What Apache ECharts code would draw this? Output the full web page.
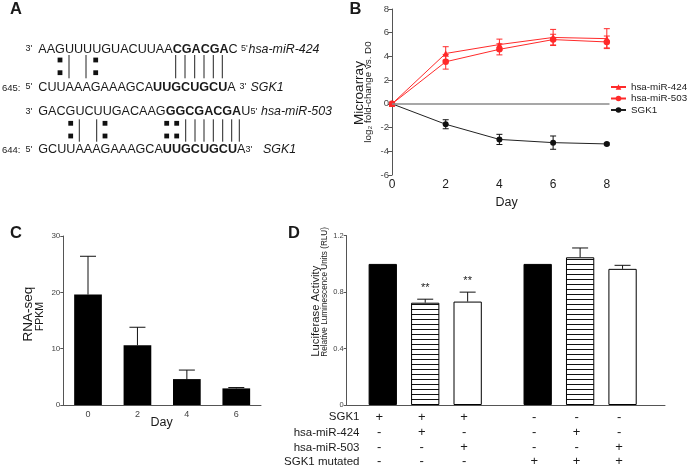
<!DOCTYPE html>
<html><head><meta charset="utf-8">
<script src="https://cdn.jsdelivr.net/npm/echarts@6/dist/echarts.min.js"></script>
<style>html,body{margin:0;padding:0;background:#fff}#c{width:689px;height:473px}</style>
</head><body><div id="c"></div>
<script>
const FONT = '"Liberation Sans", Arial, sans-serif';
const INK = '#1a1a1a';
const RED = '#ff2a2a';

// ---- Panel B: microarray time course ----
const daysB = [0, 2, 4, 6, 8];
const mir424 = [0, 4.25, 5.0, 5.6, 5.5];
const mir424Err = [0, 0.57, 0.46, 0.68, 0.84];
const mir503 = [0, 3.55, 4.6, 5.42, 5.22];
const mir503Err = [0, 0.62, 0.47, 0.45, 0.5];
const sgk1 = [0, -1.72, -3.0, -3.27, -3.38];
const sgk1Err = [0, 0.38, 0.43, 0.56, 0.08];

// ---- Panel C: RNA-seq ----
const daysC = ['0', '2', '4', '6'];
const fpkm = [19.6, 10.6, 4.6, 2.95];
const fpkmErr = [6.8, 3.2, 1.6, 0.15];

// ---- Panel D: luciferase ----
const dPos = [0.85, 1.85, 2.85, 4.5, 5.5, 6.5];
const rlu = [1.0, 0.725, 0.733, 1.0, 1.047, 0.965];
const rluErr = [0, 0.025, 0.067, 0, 0.066, 0.025];
const rluSig = ['', '**', '**', '', '', ''];
const rluFill = ['solid', 'hatch', 'open', 'solid', 'hatch', 'open'];
const tableRows = ['SGK1', 'hsa-miR-424', 'hsa-miR-503', 'SGK1 mutated'];
const tableSigns = [
  ['+', '+', '+', '-', '-', '-'],
  ['-', '+', '-', '-', '+', '-'],
  ['-', '-', '+', '-', '-', '+'],
  ['-', '-', '-', '+', '+', '+']
];

// ---- Panel A: sequences ----
const seqRows = [
  {y: 49.5, pre: "3'", num: '', seq: [['n', 'AAGUUUUGUACUUAA'], ['b', 'CGACGA'], ['n', 'C']], end: "5'", endX: 241, name: 'hsa-miR-424', nameX: 248.5},
  {y: 87.5, pre: "5'", num: '645:', seq: [['n', 'CUUAAAGAAAGCA'], ['b', 'UUGCUGCU'], ['n', 'A']], end: "3'", endX: 239.5, name: 'SGK1', nameX: 250.5},
  {y: 111.8, pre: "3'", num: '', seq: [['n', 'GACGUCUUGACAAG'], ['b', 'GGCGACGA'], ['n', 'U']], end: "5'", endX: 250.5, name: 'hsa-miR-503', nameX: 261},
  {y: 150, pre: "5'", num: '644:', seq: [['n', 'GCUUAAAGAAAGCA'], ['b', 'UUGCUGCU'], ['n', 'A']], end: "3'", endX: 245.5, name: 'SGK1', nameX: 263}
];
const pairMarks = [
  {sq: [60, 95.7], sqY: [60, 72.7], ln: [69, 86, 175.7, 185, 194.7, 204, 213.3, 222.3], y1: 55, y2: 78.3},
  {sq: [70.7, 105, 166.7, 176.7], sqY: [123.3, 136], ln: [79.3, 96.7, 185.7, 195, 204, 213.3, 222.7, 231.7, 239.3], y1: 119.3, y2: 141.7}
];

function hatchCanvas() {
  const c = document.createElement('canvas');
  c.width = 8; c.height = 5;
  const g = c.getContext('2d');
  g.fillStyle = '#fff'; g.fillRect(0, 0, 8, 5);
  g.fillStyle = '#111'; g.fillRect(0, 4, 8, 1);
  return c;
}
const HATCH = hatchCanvas();

function errRender(capW, both, color, sig) {
  return function (params, api) {
    const x = api.value(0), y = api.value(1), e = api.value(2);
    const children = [];
    const p = api.coord([x, y]);
    if (e) {
      const t = api.coord([x, y + e]);
      const b = both ? api.coord([x, y - e]) : p;
      const h = capW / 2;
      children.push({type: 'line', shape: {x1: p[0], y1: t[1], x2: p[0], y2: b[1]}, style: {stroke: color, lineWidth: 1}});
      children.push({type: 'line', shape: {x1: p[0] - h, y1: t[1], x2: p[0] + h, y2: t[1]}, style: {stroke: color, lineWidth: 1}});
      if (both) children.push({type: 'line', shape: {x1: p[0] - h, y1: b[1], x2: p[0] + h, y2: b[1]}, style: {stroke: color, lineWidth: 1}});
      if (sig && sig[params.dataIndex]) {
        children.push({type: 'text', style: {text: sig[params.dataIndex], x: p[0], y: t[1] - 6, align: 'center', verticalAlign: 'bottom', fontSize: 11, fontFamily: FONT, fill: '#222'}});
      }
    }
    return {type: 'group', children: children};
  };
}

const pairs = (xs, ys) => xs.map((x, i) => [x, ys[i]]);
const triples = (xs, ys, es) => xs.map((x, i) => [x, ys[i], es[i]]);

// graphics
const G = [];
function txt(x, y, text, o) {
  G.push(Object.assign({type: 'text', x: x, y: y, silent: true,
    style: Object.assign({text: text, fill: INK, fontFamily: FONT, fontSize: 12, align: 'left', verticalAlign: 'middle'}, o || {})}));
}
function vtxt(x, y, text, size, align) {
  G.push({type: 'text', x: x, y: y, rotation: Math.PI / 2, silent: true,
    style: {text: text, fill: INK, fontFamily: FONT, fontSize: size, align: align || 'center', verticalAlign: 'middle'}});
}
// panel letters
txt(16, 9.5, 'A', {fontSize: 16.5, fontWeight: 'bold', align: 'center'});
txt(355.5, 9.5, 'B', {fontSize: 16.5, fontWeight: 'bold', align: 'center'});
txt(16, 233, 'C', {fontSize: 16.5, fontWeight: 'bold', align: 'center'});
txt(294, 233, 'D', {fontSize: 16.5, fontWeight: 'bold', align: 'center'});

// panel A text
seqRows.forEach(r => {
  if (r.num) txt(20.5, r.y + 0.5, r.num, {fontSize: 9.5, align: 'right'});
  txt(25.5, r.y - 0.5, r.pre, {fontSize: 9});
  G.push({type: 'text', x: 38.3, y: r.y, silent: true, style: {
    text: r.seq.map(s => '{' + s[0] + '|' + s[1] + '}').join(''),
    fontFamily: FONT, fontSize: 12.6, fill: INK, align: 'left', verticalAlign: 'middle',
    rich: {n: {fontSize: 12.6, fontFamily: FONT, fill: INK}, b: {fontSize: 12.6, fontFamily: FONT, fontWeight: 'bold', fill: INK}}
  }});
  txt(r.endX, r.y - 0.5, r.end, {fontSize: 9});
  txt(r.nameX, r.y, r.name, {fontSize: 12.4, fontStyle: 'italic'});
});
pairMarks.forEach(m => {
  m.sq.forEach(x => m.sqY.forEach(y => G.push({type: 'rect', silent: true, shape: {x: x - 2.4, y: y - 2.4, width: 4.8, height: 4.8}, style: {fill: '#111'}})));
  m.ln.forEach(x => G.push({type: 'line', silent: true, shape: {x1: x, y1: m.y1, x2: x, y2: m.y2}, style: {stroke: '#222', lineWidth: 1}}));
});

// axis titles
vtxt(359, 93, 'Microarray', 13.5);
vtxt(368.5, 92, 'log\u2082 fold-change vs. D0', 9.8);
txt(506.7, 203, 'Day', {fontSize: 12.5, align: 'center'});
vtxt(28.3, 314, 'RNA-seq', 13.5);
vtxt(40, 316.5, 'FPKM', 10.5);
txt(161.7, 423, 'Day', {fontSize: 12.5, align: 'center'});
vtxt(315.7, 356.7, 'Luciferase Activity', 11.3, 'left');
vtxt(324.3, 356.7, 'Relative Luminescence Units (RLU)', 8.2, 'left');

const chart = echarts.init(document.getElementById('c'), null, {renderer: 'canvas'});
const axisGray = '#555';
const baseAxisLabel = {fontFamily: FONT, color: '#444'};

const option = {
  animation: false,
  backgroundColor: '#fff',
  textStyle: {fontFamily: FONT},
  legend: {
    data: ['hsa-miR-424', 'hsa-miR-503', 'SGK1'],
    orient: 'vertical', left: 610, top: 82, padding: 0,
    itemWidth: 15, itemHeight: 7, itemGap: 1.5,
    textStyle: {fontSize: 9.8, color: INK, fontFamily: FONT, overflow: 'none'},
    selectedMode: false
  },
  grid: [
    {left: 392, top: 9, width: 217.5, height: 166},
    {left: 63.3, top: 236, width: 197.7, height: 169},
    {left: 346.7, top: 235.7, width: 318.3, height: 169.3}
  ],
  xAxis: [
    {gridIndex: 0, type: 'value', min: 0, max: 8.1, interval: 2,
      axisLine: {show: false}, axisTick: {show: false}, splitLine: {show: false},
      axisLabel: Object.assign({}, baseAxisLabel, {fontSize: 12, color: INK, margin: 4,
        formatter: v => (v % 2 === 0 ? String(v) : '')})},
    {gridIndex: 1, type: 'category', data: daysC,
      axisLine: {lineStyle: {color: axisGray, width: 1}}, axisTick: {show: false},
      axisLabel: Object.assign({}, baseAxisLabel, {fontSize: 9, margin: 5})},
    {gridIndex: 2, type: 'value', min: 0, max: 7.5,
      axisLine: {lineStyle: {color: axisGray, width: 1}}, axisTick: {show: false},
      axisLabel: {show: false}, splitLine: {show: false}}
  ],
  yAxis: [
    {gridIndex: 0, type: 'value', min: -6, max: 8, interval: 2,
      axisLine: {show: true, lineStyle: {color: axisGray, width: 1}},
      axisTick: {show: true, length: 4, lineStyle: {color: axisGray}}, splitLine: {show: false},
      axisLabel: Object.assign({}, baseAxisLabel, {fontSize: 9.5, margin: 3})},
    {gridIndex: 1, type: 'value', min: 0, max: 30, interval: 10,
      axisLine: {show: true, lineStyle: {color: axisGray, width: 1}},
      axisTick: {show: true, length: 3, lineStyle: {color: axisGray}}, splitLine: {show: false},
      axisLabel: Object.assign({}, baseAxisLabel, {fontSize: 8, margin: 3})},
    {gridIndex: 2, type: 'value', min: 0, max: 1.2, interval: 0.4,
      axisLine: {show: true, lineStyle: {color: axisGray, width: 1}},
      axisTick: {show: true, length: 3, lineStyle: {color: axisGray}}, splitLine: {show: false},
      axisLabel: Object.assign({}, baseAxisLabel, {fontSize: 7.5, margin: 3,
        formatter: v => (v === 0 ? '0' : v.toFixed(1))})}
  ],
  series: [
    {name: 'zero', type: 'line', xAxisIndex: 0, yAxisIndex: 0, data: [], silent: true,
      markLine: {silent: true, symbol: 'none', label: {show: false},
        lineStyle: {color: '#8a8a8a', width: 1.5, type: 'solid'}, data: [{yAxis: 0}]}},
    {name: 'SGK1', type: 'line', xAxisIndex: 0, yAxisIndex: 0, data: pairs(daysB, sgk1),
      symbol: 'circle', symbolSize: 6, color: '#111', lineStyle: {color: '#222', width: 1}, itemStyle: {color: '#111'}, z: 3},
    {name: 'hsa-miR-503', type: 'line', xAxisIndex: 0, yAxisIndex: 0, data: pairs(daysB, mir503),
      symbol: 'circle', symbolSize: 6.5, color: RED, lineStyle: {color: RED, width: 1}, itemStyle: {color: RED}, z: 4},
    {name: 'hsa-miR-424', type: 'line', xAxisIndex: 0, yAxisIndex: 0, data: pairs(daysB, mir424),
      symbol: 'triangle', symbolSize: 6.5, color: RED, lineStyle: {color: RED, width: 1}, itemStyle: {color: RED}, z: 4},
    {name: 'err424', type: 'custom', xAxisIndex: 0, yAxisIndex: 0, data: triples(daysB, mir424, mir424Err),
      renderItem: errRender(6, true, RED), silent: true, z: 5},
    {name: 'err503', type: 'custom', xAxisIndex: 0, yAxisIndex: 0, data: triples(daysB, mir503, mir503Err),
      renderItem: errRender(6, true, RED), silent: true, z: 5},
    {name: 'errSGK1', type: 'custom', xAxisIndex: 0, yAxisIndex: 0, data: triples(daysB, sgk1, sgk1Err),
      renderItem: errRender(6, true, '#111'), silent: true, z: 5},

    {name: 'FPKM', type: 'bar', xAxisIndex: 1, yAxisIndex: 1, data: fpkm, barWidth: 27.7,
      itemStyle: {color: '#000'}, silent: true},
    {name: 'errFPKM', type: 'custom', xAxisIndex: 1, yAxisIndex: 1,
      data: fpkm.map((v, i) => [i, v, fpkmErr[i]]), renderItem: errRender(16, false, '#111'), silent: true, z: 5},

    {name: 'RLU', type: 'bar', xAxisIndex: 2, yAxisIndex: 2, barWidth: 28.3, silent: true,
      data: dPos.map((x, i) => ({value: [x, rlu[i]], itemStyle: {
        color: rluFill[i] === 'solid' ? '#000' : (rluFill[i] === 'hatch' ? {image: HATCH, repeat: 'repeat'} : '#fff'),
        borderColor: '#000', borderWidth: 1}}))},
    {name: 'errRLU', type: 'custom', xAxisIndex: 2, yAxisIndex: 2,
      data: triples(dPos, rlu, rluErr), renderItem: errRender(16, false, '#111', rluSig), silent: true, z: 5}
  ],
  graphic: G
};
chart.setOption(option);

// table beneath panel D, columns aligned to the bars
const rowY = [417.2, 432.5, 447.7, 461.7];
const T = [];
tableRows.forEach((name, r) => {
  T.push({type: 'text', x: 359.5, y: rowY[r], silent: true,
    style: {text: name, fill: INK, fontFamily: FONT, fontSize: 11.5, align: 'right', verticalAlign: 'middle'}});
  tableSigns[r].forEach((s, c) => {
    const px = chart.convertToPixel({xAxisIndex: 2}, dPos[c]);
    T.push({type: 'text', x: px - 3.5, y: rowY[r], silent: true,
      style: {text: s, fill: INK, fontFamily: FONT, fontSize: 13, align: 'center', verticalAlign: 'middle'}});
  });
});
chart.setOption({graphic: G.concat(T)});
</script>
</body></html>
